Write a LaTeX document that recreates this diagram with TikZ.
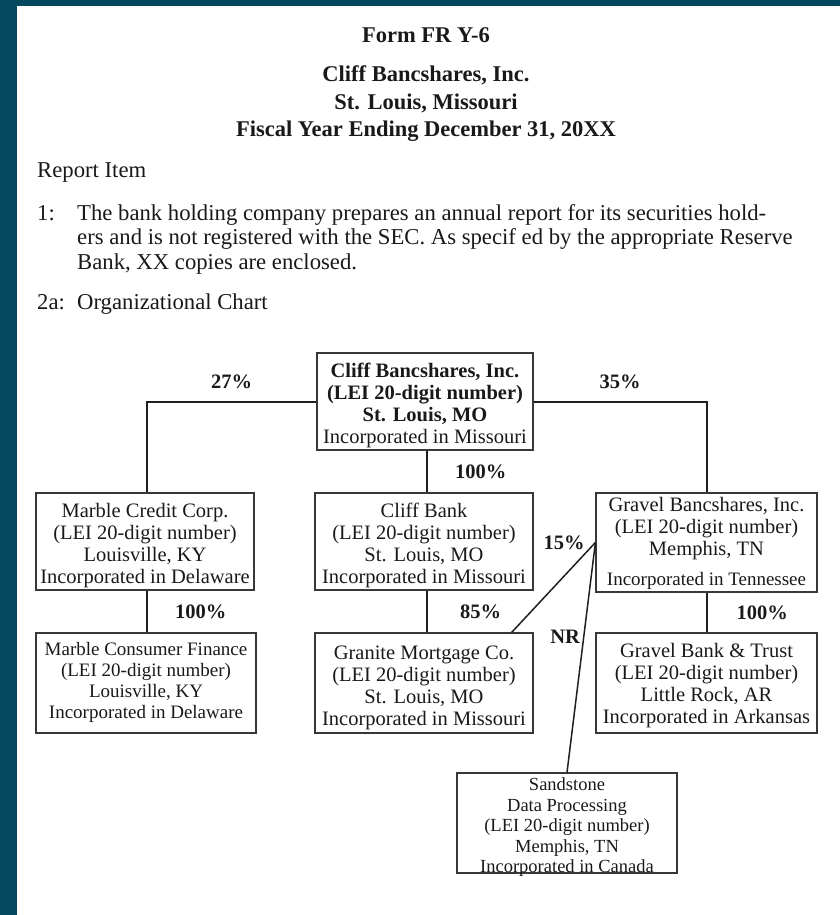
\documentclass[tikz,border=0pt]{standalone}
\usepackage{fontspec}
\setmainfont{Liberation Serif}
\definecolor{frame}{HTML}{03485C}

\begin{document}
\begin{tikzpicture}[x=1pt, y=-1pt,
    head/.style={anchor=base, inner sep=0pt, text=black!90,
                 font=\fontsize{22.5}{24}\selectfont\bfseries},
    body/.style={anchor=base west, inner sep=0pt, text=black!90,
                 font=\fontsize{22.7}{24}\selectfont},
    box/.style={draw=black!78, line width=1.2pt, rectangle, inner sep=0pt,
                align=center, text=black!90, text height=#1,
                font=\fontsize{20.5}{22}\selectfont},
    box/.default=89pt,
    pct/.style={inner sep=0pt, text=black!90,
                font=\fontsize{20.5}{22}\selectfont\bfseries},
    link/.style={draw=black!88, line width=2pt},
    slant/.style={draw=black!88, line width=1.5pt}]
    \useasboundingbox (0,0) rectangle (840,915);
    \fill[frame] (0,0) rectangle (17,915);
    \fill[frame] (0,0) rectangle (840,6);

    \node[head] (form) at (426,43) {Form FR Y-6};
    \node[head] (name) at (426,82) {Cliff Bancshares, Inc.};
    \node[head] (city) at (426,109.5) {St. Louis, Missouri};
    \node[head] (year) at (426,136.5) {Fiscal Year Ending December 31, 20XX};

    \node[body] (report) at (37,177) {Report Item};
    \node[body] (one) at (37,220) {1:};
    \node[body] (lineA) at (77,220)
        {The bank holding company prepares an annual report for its securities hold-};
    \node[body] (lineB) at (77,244.5)
        {ers and is not registered with the SEC. As specif ed by the appropriate Reserve};
    \node[body] (lineC) at (77,269) {Bank, XX copies are enclosed.};
    \node[body] (two) at (37,309) {2a:};
    \node[body] (chart) at (77,309) {Organizational Chart};

    \node[box, minimum width=216pt, minimum height=97pt]
        (Top) at (425,401.5) {\textbf{Cliff Bancshares, Inc.}\\ \textbf{(LEI 20-digit number)}\\
        \textbf{St. Louis, MO}\\ Incorporated in Missouri};

    \node[box, minimum width=218pt, minimum height=97pt]
        (Marble) at (145,541.5) {Marble Credit Corp.\\ (LEI 20-digit number)\\
        Louisville, KY\\ Incorporated in Delaware};
    \node[box, minimum width=218pt, minimum height=97pt]
        (Bank) at (424,541.5) {Cliff Bank\\ (LEI 20-digit number)\\
        St. Louis, MO\\ Incorporated in Missouri};
    \node[box=91pt, minimum width=221pt, minimum height=99pt]
        (Gravel) at (706.5,542.5) {Gravel Bancshares, Inc.\\ (LEI 20-digit number)\\
        Memphis, TN\\[8pt] {\fontsize{19}{20}\selectfont Incorporated in Tennessee}};

    \node[box=76pt, minimum width=220pt, minimum height=100pt,
          font=\fontsize{19}{21}\selectfont]
        (Consumer) at (146,683) {Marble Consumer Finance\\ (LEI 20-digit number)\\
        Louisville, KY\\ Incorporated in Delaware};
    \node[box=90pt, minimum width=218pt, minimum height=100pt]
        (Granite) at (424,683) {Granite Mortgage Co.\\ (LEI 20-digit number)\\
        St. Louis, MO\\ Incorporated in Missouri};
    \node[box=86pt, minimum width=221pt, minimum height=100pt]
        (Trust) at (706.5,683) {Gravel Bank \& Trust\\ (LEI 20-digit number)\\
        Little Rock, AR\\ Incorporated in Arkansas};

    \node[box=99pt, text depth=0pt, minimum width=220pt, minimum height=100pt,
          font=\fontsize{18.5}{20.5}\selectfont]
        (Sandstone) at (567,823) {Sandstone\\ Data Processing\\ (LEI 20-digit number)\\
        Memphis, TN\\ Incorporated in Canada};

    \path[link] (Top.west) -| node[pct, pos=0.25, above=12pt] {27\%}
        ([xshift=2pt]Marble.north);
    \path[link] (Top.east) -| node[pct, pos=0.25, above=12pt] {35\%} (Gravel.north);
    \path[link] ([xshift=2pt]Top.south) -- node[pct, right=27pt] {100\%}
        ([xshift=2pt]Top.south |- Bank.north);
    \path[link] ([xshift=2pt]Marble.south) -- node[pct, right=27pt] {100\%}
        ([xshift=2pt]Marble.south |- Consumer.north);
    \path[link] ([xshift=3pt]Bank.south) -- node[pct, right=32pt] {85\%}
        ([xshift=3pt]Bank.south |- Granite.north);
    \path[link] (Gravel.south) -- node[pct, right=29pt] {100\%}
        (Gravel.south |- Trust.north);
    \path[slant] (Gravel.west) -- node[pct, pos=0, left=10pt] {15\%} (Granite.30);
    \path[slant] (Gravel.west) -- node[pct, pos=0.41, left=3pt] {NR} (Sandstone.north);
\end{tikzpicture}
\end{document}
